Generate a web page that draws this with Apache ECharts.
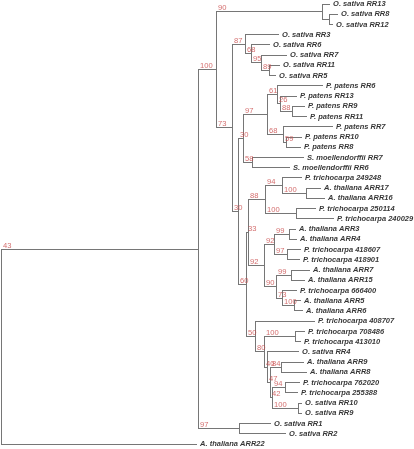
<!DOCTYPE html>
<html><head><meta charset="utf-8">
<script src="https://cdn.jsdelivr.net/npm/echarts@6/dist/echarts.min.js"></script>
<style>html,body{margin:0;padding:0;background:#fff}#c{width:414px;height:449px}</style>
</head><body><div id="c"></div>
<script>
// Leaves, top to bottom
const leafNames = [
  'O. sativa RR13','O. sativa RR8','O. sativa RR12','O. sativa RR3','O. sativa RR6','O. sativa RR7','O. sativa RR11','O. sativa RR5',
  'P. patens RR6','P. patens RR13','P. patens RR9','P. patens RR11','P. patens RR7','P. patens RR10','P. patens RR8',
  'S. moellendorffii RR7','S. moellendorffii RR6',
  'P. trichocarpa 249248','A. thaliana ARR17','A. thaliana ARR16','P. trichocarpa 250114','P. trichocarpa 240029',
  'A. thaliana ARR3','A. thaliana ARR4','P. trichocarpa 418607','P. trichocarpa 418901',
  'A. thaliana ARR7','A. thaliana ARR15','P. trichocarpa 666400','A. thaliana ARR5','A. thaliana ARR6',
  'P. trichocarpa 408707','P. trichocarpa 708486','P. trichocarpa 413010','O. sativa RR4',
  'A. thaliana ARR9','A. thaliana ARR8','P. trichocarpa 762020','P. trichocarpa 255388','O. sativa RR10','O. sativa RR9',
  'O. sativa RR1','O. sativa RR2','A. thaliana ARR22'
];
const leafParents = [
  'N90','Na','Na','N87','N68','N95','N89','N89',
  'N61','N26','N88','N88','N68p','N59','N59',
  'N58','N58',
  'N94','N100c','N100c','N100d','N100d',
  'N99','N99','N97c','N97c',
  'N99b','N99b','N73b','N100e','N100e',
  'N50','N100f','N100f','N40',
  'N84','N84','N94b','N94b','N100g','N100g',
  'N97','N97','R'
];
// distance from root (arbitrary units)
const leafDepths = [
  329,337,332,278,269,286,279,275,
  322,296,304,306,332,301,300,
  303,289,
  301,320,324,315,333,
  295,296,300,299,
  309,304,296,300,302,
  314,304,300,298,
  303,306,299,297,301,301,
  270,285,196
];
// internal nodes
const nodeIds = ['R','N43','N100','N90','Na','N73','N87','N68','N95','N89','N30b','N30a','N97p','N61','N26','N88','N68p','N59','N58',
  'N60','N33','N88b','N94','N100c','N100d','N92a','N92b','N99','N97c','N90b','N99b','N73b','N100e',
  'N50','N80','N100f','N40','N47','N84','N42','N94b','N100g','N97'];
const nodeParents = ['', 'R','N43','N100','N90','N100','N73','N87','N68','N95','N73','N30b','N30a','N97p','N61','N26','N97p','N68p','N30a',
  'N30b','N60','N33','N88b','N94','N88b','N33','N92a','N92b','N92b','N92a','N90b','N90b','N73b',
  'N60','N50','N80','N80','N40','N47','N47','N42','N42','N43'];
const nodeDepths = [0,197,215,321,328,231,244,250,260,268,237,242,266,276,279,291,282,285,251,
  245,247,264,281,305,295,263,273,288,286,275,290,281,293,
  254,263,294,266,269,280,271,284,297,238];
const nodeSupports = ['','43','100','90','','73','87','68','95','89','30','30','97','61','26','88','68','59','58',
  '60','33','88','94','100','100','92','92','99','97','90','99','73','100',
  '50','80','100','40','47','84','42','94','100','97'];

// ---- build tree geometry from the arrays ----
const depthOf = {};
nodeIds.forEach((id, i) => depthOf[id] = nodeDepths[i]);
const kids = {};
nodeIds.forEach(id => kids[id] = []);
nodeIds.forEach((id, i) => { if (nodeParents[i]) kids[nodeParents[i]].push({ t: 'n', id }); });
leafNames.forEach((n, i) => kids[leafParents[i]].push({ t: 'l', idx: i }));
const yOf = {}, span = {};
function nodeY(id) {
  if (yOf[id] !== undefined) return yOf[id];
  const ys = kids[id].map(k => k.t === 'l' ? k.idx : nodeY(k.id));
  const lo = Math.min(...ys), hi = Math.max(...ys);
  span[id] = [lo, hi];
  yOf[id] = (lo + hi) / 2;
  return yOf[id];
}
nodeY('R');

const branchData = [];
const supportData = [];
nodeIds.forEach((id, i) => {
  const p = nodeParents[i];
  const pd = p ? depthOf[p] : nodeDepths[i];
  branchData.push([pd, nodeDepths[i], yOf[id], span[id][0], span[id][1], 1]);
  if (nodeSupports[i]) supportData.push([pd, yOf[id], nodeSupports[i]]);
});
const leafData = [];
leafNames.forEach((n, i) => {
  branchData.push([depthOf[leafParents[i]], leafDepths[i], i, i, i, 0]);
  leafData.push([leafDepths[i], i, n]);
});

const LINE = '#767676';
function crisp(v) { return Math.round(v - 0.5) + 0.5; }

const chart = echarts.init(document.getElementById('c'), null, { renderer: 'canvas' });
chart.setOption({
  animation: false,
  backgroundColor: '#ffffff',
  grid: { left: 1, right: 0, top: 4, bottom: 5 },
  xAxis: { type: 'value', min: 0, max: 413, show: false },
  yAxis: { type: 'value', min: 0, max: 43, inverse: true, show: false },
  series: [
    {
      type: 'custom',
      data: branchData,
      encode: { x: [0, 1], y: [2, 3, 4] },
      silent: true,
      renderItem: function (params, api) {
        const a = api.coord([api.value(0), api.value(2)]);
        const b = api.coord([api.value(1), api.value(2)]);
        const children = [];
        if (b[0] - a[0] > 0.3) {
          children.push({ type: 'line', shape: { x1: a[0], y1: crisp(a[1]), x2: b[0], y2: crisp(b[1]) },
            style: { stroke: LINE, lineWidth: 1 } });
        }
        if (api.value(5) === 1) {
          const t = api.coord([api.value(1), api.value(3)]);
          const u = api.coord([api.value(1), api.value(4)]);
          children.push({ type: 'line', shape: { x1: crisp(t[0]), y1: crisp(t[1]), x2: crisp(u[0]), y2: crisp(u[1]) + 0.5 },
            style: { stroke: LINE, lineWidth: 1 } });
        }
        return { type: 'group', children };
      }
    },
    {
      type: 'scatter',
      data: leafData,
      symbolSize: 0.1,
      itemStyle: { color: 'rgba(0,0,0,0)' },
      silent: true,
      label: {
        show: true, position: 'right', distance: 3,
        formatter: p => p.data[2],
        color: '#000', fontFamily: 'Liberation Sans', fontWeight: 'bold', fontStyle: 'italic', fontSize: 7.5
      }
    },
    {
      type: 'scatter',
      data: supportData,
      symbolSize: 0.1,
      itemStyle: { color: 'rgba(0,0,0,0)' },
      silent: true,
      label: {
        show: true, position: [2, 0.5], align: 'left', verticalAlign: 'bottom',
        formatter: p => p.data[2],
        color: '#c84848', fontFamily: 'Liberation Sans', fontSize: 7.6
      }
    }
  ]
});
</script>
</body></html>
